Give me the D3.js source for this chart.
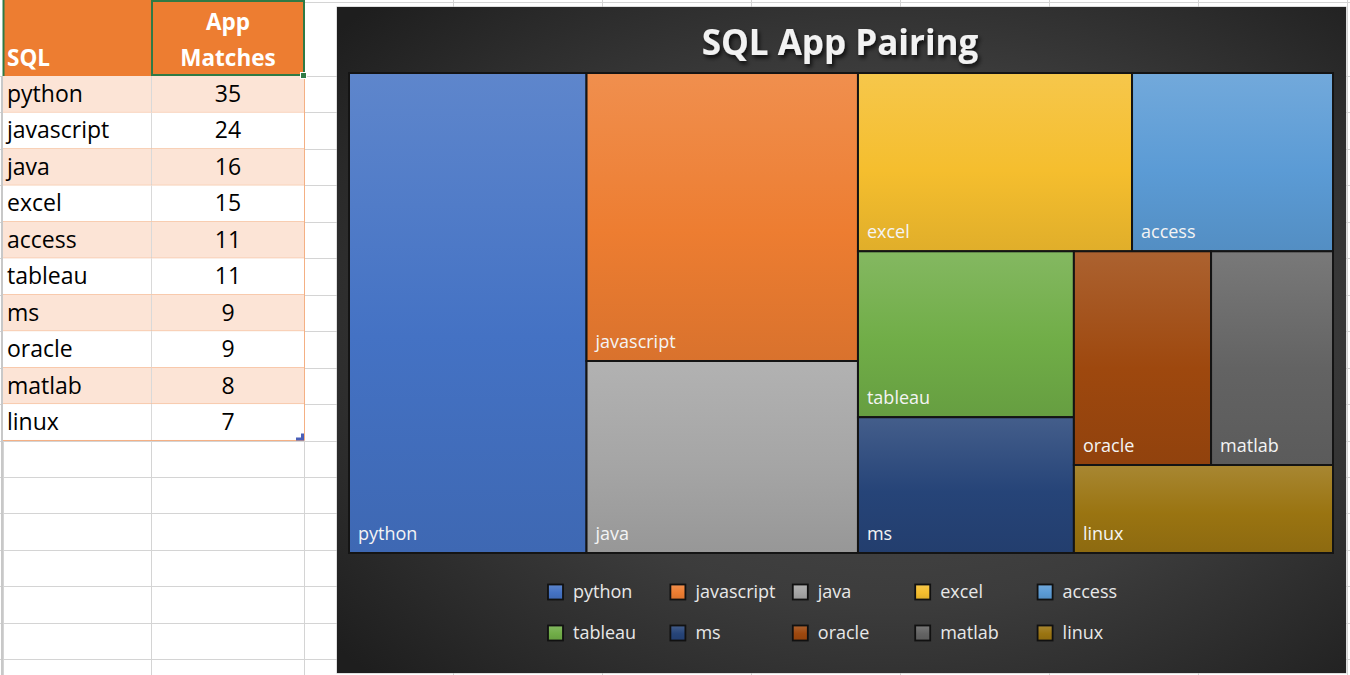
<!DOCTYPE html>
<html>
<head>
<meta charset="utf-8">
<script src="https://cdn.jsdelivr.net/npm/d3@7"></script>
<style>
  html, body { margin: 0; padding: 0; background: #ffffff; }
  svg { display: block; }
</style>
</head>
<body>
<svg id="chart" width="1350" height="675"></svg>
<script>
// ---------------- data ----------------
const categories = ["python", "javascript", "java", "excel", "access", "tableau", "ms", "oracle", "matlab", "linux"];
const matches = [35, 24, 16, 15, 11, 11, 9, 9, 8, 7];
const tableHeaders = ["SQL", "App\nMatches"];
const chartTitle = "SQL App Pairing";

// ---------------- styles ----------------
const palette = ["#4472C4", "#ED7D31", "#A5A5A5", "#F5BE2E", "#5B9BD5", "#70AD47", "#264478", "#9E480E", "#636363", "#9A7411"];
const color = d3.scaleOrdinal(categories, palette);
const FONT = "'Open Sans', 'DejaVu Sans', sans-serif";

const svg = d3.select("#chart");
const defs = svg.append("defs");

// ---------------- spreadsheet ----------------
const W = 1350, H = 675;
const headerBottom = 76;
const rowH = 36.45;
const rowLines = d3.range(0, 17).map(i => headerBottom + i * rowH);
const extraCols = d3.range(0, 8).map(i => 304 + i * 149);

const sheet = svg.append("g");
sheet.append("line").attr("x1", 304).attr("x2", W).attr("y1", 2.5).attr("y2", 2.5)
  .attr("stroke", "#d4d4d4").attr("stroke-width", 1);
sheet.selectAll("line.hgrid").data(rowLines).join("line")
  .attr("class", "hgrid").attr("x1", 0).attr("x2", W)
  .attr("y1", d => Math.round(d) + 0.5).attr("y2", d => Math.round(d) + 0.5)
  .attr("stroke", "#d4d4d4").attr("stroke-width", 1);
sheet.selectAll("line.vgrid").data([3, 151].concat(extraCols)).join("line")
  .attr("class", "vgrid").attr("y1", 0).attr("y2", H)
  .attr("x1", d => d + 0.5).attr("x2", d => d + 0.5)
  .attr("stroke", "#d4d4d4").attr("stroke-width", 1);
sheet.append("line").attr("x1", 2).attr("x2", 2).attr("y1", headerBottom).attr("y2", H)
  .attr("stroke", "#c8c8c8").attr("stroke-width", 2);

// header
sheet.append("rect").attr("x", 3).attr("y", 0).attr("width", 301).attr("height", headerBottom)
  .attr("fill", "#ED7D31");
sheet.append("text").attr("x", 7).attr("y", 66).text(tableHeaders[0])
  .attr("font-family", FONT).attr("font-weight", 700).attr("font-size", 22.5).attr("fill", "#ffffff");
tableHeaders[1].split("\n").forEach((t, i) => {
  sheet.append("text").attr("x", 228).attr("y", 30 + i * 36).attr("text-anchor", "middle").text(t)
    .attr("font-family", FONT).attr("font-weight", 700).attr("font-size", 22.5).attr("fill", "#ffffff");
});

// data rows
const rows = sheet.selectAll("g.row").data(categories).join("g").attr("class", "row")
  .attr("transform", (d, i) => `translate(0,${headerBottom + i * rowH})`);
rows.append("rect").attr("x", 3).attr("y", 0).attr("width", 301).attr("height", rowH)
  .attr("fill", (d, i) => i % 2 === 0 ? "#FCE4D6" : "#ffffff");
rows.append("line").attr("x1", 151.5).attr("x2", 151.5).attr("y1", 0).attr("y2", rowH)
  .attr("stroke", "#d9d9d9");
rows.append("line").attr("x1", 3).attr("x2", 304).attr("y1", rowH).attr("y2", rowH)
  .attr("stroke", "#F4B084").attr("stroke-width", 1);
rows.append("text").attr("x", 7).attr("y", 26).text(d => d)
  .attr("font-family", FONT).attr("font-size", 23).attr("fill", "#000");
rows.append("text").attr("x", 228).attr("y", 26).attr("text-anchor", "middle")
  .text((d, i) => matches[i])
  .attr("font-family", FONT).attr("font-size", 23).attr("fill", "#000");
sheet.append("line").attr("x1", 304.5).attr("x2", 304.5).attr("y1", headerBottom)
  .attr("y2", headerBottom + categories.length * rowH).attr("stroke", "#F4B084");
const tb = headerBottom + categories.length * rowH;
sheet.append("path").attr("d", `M${304},${tb - 7} L${304},${tb} L${296},${tb} L${296},${tb - 3} L${301},${tb - 3} L${301},${tb - 7} Z`)
  .attr("fill", "#4a5fb8");
sheet.append("line").attr("x1", 3.5).attr("x2", 3.5).attr("y1", 0).attr("y2", headerBottom)
  .attr("stroke", "#2f7a45").attr("stroke-width", 2);
sheet.append("rect").attr("x", 152).attr("y", 1).attr("width", 152).attr("height", 74)
  .attr("fill", "none").attr("stroke", "#2f7a45").attr("stroke-width", 2);
sheet.append("rect").attr("x", 300.5).attr("y", 72.5).attr("width", 6).attr("height", 6)
  .attr("fill", "#2f7a45").attr("stroke", "#ffffff").attr("stroke-width", 1);

// ---------------- chart ----------------
const cx0 = 337, cy0 = 7, cW = 1009, cH = 666;
const bg = defs.append("radialGradient").attr("id", "bgGrad")
  .attr("cx", "55%").attr("cy", "50%").attr("r", "72%");
bg.append("stop").attr("offset", "0%").attr("stop-color", "#4e4e4e");
bg.append("stop").attr("offset", "55%").attr("stop-color", "#3c3c3c");
bg.append("stop").attr("offset", "100%").attr("stop-color", "#1e1e1e");

const shadow = defs.append("filter").attr("id", "tshadow").attr("x", "-10%").attr("y", "-30%")
  .attr("width", "130%").attr("height", "170%");
shadow.append("feDropShadow").attr("dx", 2).attr("dy", 3).attr("stdDeviation", 2)
  .attr("flood-color", "#000").attr("flood-opacity", 0.75);

const chart = svg.append("g");
chart.append("rect").attr("x", cx0 - 0.5).attr("y", cy0 - 0.5).attr("width", cW + 1).attr("height", cH + 1)
  .attr("fill", "#bfbfbf");
chart.append("rect").attr("x", cx0).attr("y", cy0).attr("width", cW).attr("height", cH)
  .attr("fill", "url(#bgGrad)");

chart.append("text").attr("x", 840).attr("y", 55).attr("text-anchor", "middle")
  .text(chartTitle).attr("font-family", FONT).attr("font-weight", 700).attr("font-size", 35)
  .attr("fill", "#f2f2f2").attr("filter", "url(#tshadow)");

categories.forEach((c, i) => {
  const base = d3.color(color(c));
  const g = defs.append("linearGradient").attr("id", "g" + i)
    .attr("x1", 0).attr("y1", 0).attr("x2", 0).attr("y2", 1);
  g.append("stop").attr("offset", "0%").attr("stop-color", d3.interpolateRgb(base, "#ffffff")(0.14));
  g.append("stop").attr("offset", "55%").attr("stop-color", base.formatHex());
  g.append("stop").attr("offset", "100%").attr("stop-color", base.darker(0.25).formatHex());
});

const px0 = 349, py0 = 73, pW = 984, pH = 480;
const root = d3.hierarchy({ children: categories.map((c, i) => ({ name: c, value: matches[i] })) })
  .sum(d => d.value || 0);
d3.treemap().tile(d3.treemapSquarify.ratio(1)).size([pW, pH]).round(false)(root);

const plot = chart.append("g").attr("transform", `translate(${px0},${py0})`);
const cells = plot.selectAll("g.cell").data(root.leaves()).join("g").attr("class", "cell");
cells.append("rect")
  .attr("x", d => d.x0).attr("y", d => d.y0)
  .attr("width", d => d.x1 - d.x0).attr("height", d => d.y1 - d.y0)
  .attr("fill", d => `url(#g${categories.indexOf(d.data.name)})`)
  .attr("stroke", "#141414").attr("stroke-width", 2);
cells.append("text")
  .attr("x", d => d.x0 + 9).attr("y", d => d.y1 - 13)
  .text(d => d.data.name)
  .attr("font-family", FONT).attr("font-size", 18).attr("fill", "#f4f4f4");

const legend = chart.append("g");
const items = legend.selectAll("g.item").data(categories).join("g").attr("class", "item")
  .attr("transform", (d, i) => `translate(${548 + (i % 5) * 122.4},${i < 5 ? 592 : 633})`);
items.append("rect").attr("x", 0).attr("y", -7.5).attr("width", 15).attr("height", 15)
  .attr("fill", (d, i) => `url(#g${i})`).attr("stroke", "#111").attr("stroke-width", 1.8);
items.append("text").attr("x", 25).attr("y", 0).attr("dy", "0.35em").text(d => d)
  .attr("font-family", FONT).attr("font-size", 18).attr("fill", "#e8e8e8");
</script>
</body>
</html>
